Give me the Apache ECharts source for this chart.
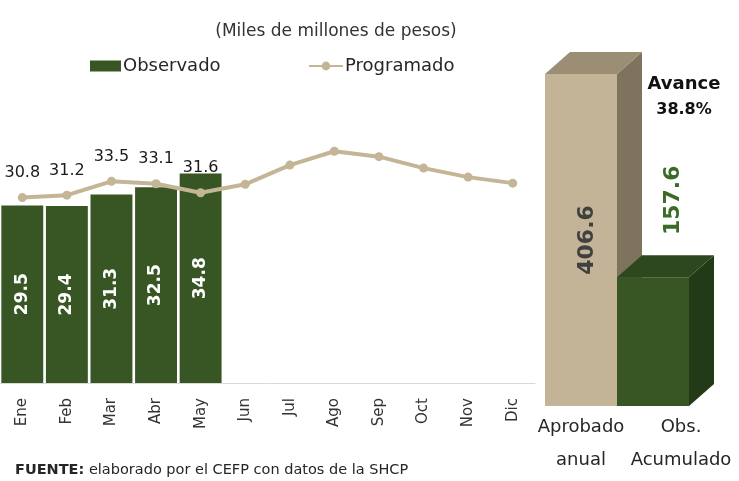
<!DOCTYPE html>
<html>
<head>
    <meta charset="UTF-8">
    <title>Observado vs Programado</title>
    <script type="text/javascript" src="https://cdn.jsdelivr.net/npm/echarts@6/dist/echarts.min.js"></script>
</head>
<body style="margin: 0;overflow: hidden;background: #fff;">
<div id="chart" style="width: 739px;height: 481px"></div>
<script type="text/javascript">
    var meses = ['Ene', 'Feb', 'Mar', 'Abr', 'May', 'Jun', 'Jul', 'Ago', 'Sep', 'Oct', 'Nov', 'Dic'];
    var observado = [29.5, 29.4, 31.3, 32.5, 34.8];
    var programado = [30.8, 31.2, 33.5, 33.1, 31.6, 33.0, 36.2, 38.5, 37.6, 35.7, 34.2, 33.2];
    var resumenCat = ['Aprobado\nanual', 'Obs.\nAcumulado'];
    var resumenVal = [406.6, 157.6];

    var font = 'DejaVu Sans';
    var verde = '#375623';
    var beige = '#C4B596';
    // colores de las caras: frente, lado, tapa
    var caras = [
        ['#C4B497', '#7E735D', '#9B8E74'],
        ['#375623', '#233A18', '#2D471F']
    ];
    var avance = (resumenVal[1] / resumenVal[0] * 100).toFixed(1);

    var chart = echarts.init(document.getElementById('chart'));
    var option = {
        animation: false,
        backgroundColor: '#fff',
        title: [{
            text: '(Miles de millones de pesos)',
            left: 331,
            textAlign: 'center',
            top: 18,
            textStyle: {fontFamily: font, fontSize: 17, fontWeight: 'normal', color: '#333'}
        }, {
            text: '{a|Avance}\n{p|' + avance + '%}',
            left: 679,
            textAlign: 'center',
            top: 66,
            textStyle: {
                rich: {
                    a: {fontFamily: font, fontSize: 18, fontWeight: 'bold', color: '#111', lineHeight: 26},
                    p: {fontFamily: font, fontSize: 16, fontWeight: 'bold', color: '#111', lineHeight: 26}
                }
            }
        }, {
            text: '{b|FUENTE:} elaborado por el CEFP con datos de la SHCP',
            left: 10,
            top: 458,
            textStyle: {
                fontFamily: font, fontSize: 14.5, fontWeight: 'normal', color: '#262626',
                rich: {b: {fontFamily: font, fontSize: 14.5, fontWeight: 'bold', color: '#262626'}}
            }
        }],
        legend: [{
            data: [{name: 'Observado', icon: 'rect'}],
            left: 85,
            top: 52,
            itemWidth: 31,
            itemHeight: 11,
            itemGap: 4,
            textStyle: {fontFamily: font, fontSize: 18, color: '#262626', padding: [0, 0, 0, -3]}
        }, {
            data: ['Programado'],
            left: 303,
            top: 52,
            itemWidth: 34,
            itemHeight: 11,
            textStyle: {fontFamily: font, fontSize: 18, color: '#262626', padding: [0, 0, 0, -3]}
        }],
        grid: [{
            left: 0, right: 204, top: 82, bottom: 98
        }, {
            left: 531, width: 200, top: 14, bottom: 75
        }],
        xAxis: [{
            type: 'category',
            gridIndex: 0,
            data: meses,
            axisLine: {lineStyle: {color: '#D9D9D9', width: 1}},
            axisTick: {show: false},
            axisLabel: {rotate: 90, margin: 15, fontFamily: font, fontSize: 15, color: '#333'}
        }, {
            type: 'category',
            gridIndex: 1,
            data: resumenCat,
            axisLine: {show: false},
            axisTick: {show: false},
            axisLabel: {interval: 0, margin: 5, fontFamily: font, fontSize: 18, lineHeight: 33, color: '#262626'}
        }],
        yAxis: [{
            type: 'value', gridIndex: 0, min: 0, max: 50, show: false
        }, {
            type: 'value', gridIndex: 1, min: 0, max: 480, show: false
        }],
        series: [{
            name: 'Observado',
            type: 'bar',
            xAxisIndex: 0,
            yAxisIndex: 0,
            data: observado,
            barCategoryGap: '6%',
            itemStyle: {color: verde},
            label: {
                show: true,
                position: 'inside',
                rotate: 90,
                fontFamily: font,
                fontSize: 17,
                fontWeight: 'bold',
                color: '#fff'
            }
        }, {
            name: 'Programado',
            type: 'line',
            xAxisIndex: 0,
            yAxisIndex: 0,
            data: programado,
            symbol: 'circle',
            symbolSize: 9,
            lineStyle: {color: beige, width: 4},
            itemStyle: {color: beige},
            label: {
                show: true,
                position: 'top',
                distance: 12,
                fontFamily: font,
                fontSize: 16,
                color: '#1a1a1a',
                formatter: function (p) {
                    return p.dataIndex < observado.length ? p.value.toFixed(1) : '';
                }
            }
        }, {
            name: 'Resumen',
            type: 'custom',
            xAxisIndex: 1,
            yAxisIndex: 1,
            data: resumenVal.map(function (v, i) {
                return [i, v];
            }),
            renderItem: function (params, api) {
                var i = params.dataIndex;
                var top = api.coord([api.value(0), api.value(1)]);
                var base = api.coord([api.value(0), 0]);
                var w = 72, dx = 25, dy = 22;
                // las dos barras van pegadas: la segunda empieza donde termina la primera
                var x0 = top[0] - w / 2 - i * 28;
                var yt = top[1], yb = base[1];
                var c = caras[i];
                var children = [{
                    type: 'rect',
                    shape: {x: x0, y: yt, width: w, height: yb - yt},
                    style: {fill: c[0]}
                }, {
                    type: 'polygon',
                    shape: {points: [[x0 + w, yt], [x0 + w + dx, yt - dy], [x0 + w + dx, yb - dy], [x0 + w, yb]]},
                    style: {fill: c[1]}
                }, {
                    type: 'polygon',
                    shape: {points: [[x0, yt], [x0 + dx, yt - dy], [x0 + w + dx, yt - dy], [x0 + w, yt]]},
                    style: {fill: c[2]}
                }];
                var txt = api.value(1).toFixed(1);
                if (i === 0) {
                    children.push({
                        type: 'text',
                        x: x0 + w / 2 + 6, y: (yt + yb) / 2,
                        rotation: Math.PI / 2,
                        style: {
                            text: txt, fill: '#404040', align: 'center', verticalAlign: 'middle',
                            font: 'bold 22px ' + font
                        }
                    });
                } else {
                    children.push({
                        type: 'text',
                        x: x0 + w / 2 + 20, y: yt - 77,
                        rotation: Math.PI / 2,
                        style: {
                            text: txt, fill: '#3B6B27', align: 'center', verticalAlign: 'middle',
                            font: 'bold 22px ' + font
                        }
                    });
                }
                return {type: 'group', children: children};
            }
        }]
    };
    chart.setOption(option);
</script>
</body>
</html>
